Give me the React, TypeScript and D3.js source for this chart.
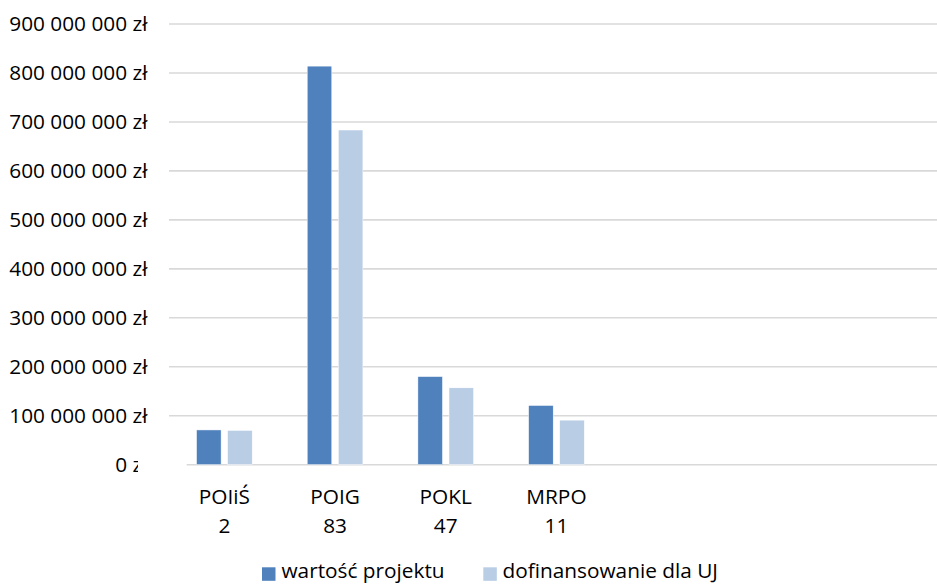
import React from "react";
import * as d3 from "d3";

const categories = ["POIiŚ", "POIG", "POKL", "MRPO", "", " ", "  "];
const counts = ["2", "83", "47", "11", "", "", ""];
const seriesNames = ["wartość projektu", "dofinansowanie dla UJ"];
const wartosc = [71000000, 814000000, 180000000, 121000000, null, null, null];
const dofinansowanie = [70000000, 683500000, 157000000, 91000000, null, null, null];
const yTicks = [0, 100000000, 200000000, 300000000, 400000000, 500000000, 600000000, 700000000, 800000000, 900000000];

const W = 937;
const H = 584;
const colors = ["#4F81BD", "#B9CDE5"];
const FONT = "'Open Sans', sans-serif";
const FS = 20.8;

function fmt(v: number): string {
  const s = String(Math.round(v)).replace(/\B(?=(\d{3})+(?!\d))/g, " ");
  return s + " zł";
}

export default function App() {
  const x0 = 169;
  const step = 110.7;
  const x = d3.scaleBand<string>().domain(categories).range([x0, x0 + step * categories.length]).padding(0);
  const y = d3.scaleLinear().domain([0, 900000000]).range([464.7, 24]);
  const inner = d3
    .scaleBand<string>()
    .domain(seriesNames)
    .range([27.5, 27.5 + 55.7])
    .paddingInner(6.5 / 31.1)
    .paddingOuter(0);
  const series = [wartosc, dofinansowanie];

  return (
    <svg width={W} height={H} style={{ position: "absolute", left: 0, top: 0, background: "#fff" }} fontFamily={FONT}>
      <defs>
        <clipPath id="zeroClip">
          <rect x={0} y={440} width={138} height={40} />
        </clipPath>
      </defs>
      {yTicks.map((t) =>
        t === 0 ? (
          <line key={t} x1={186.7} x2={W} y1={y(t)} y2={y(t)} stroke="#D9D9D9" strokeWidth={1.6} />
        ) : (
          <line key={t} x1={x0} x2={W} y1={y(t)} y2={y(t)} stroke="#D9D9D9" strokeWidth={1.6} />
        )
      )}
      {yTicks.map((t) => (
        <text
          key={"l" + t}
          x={147.5}
          y={y(t) + 7}
          textAnchor="end"
          fontSize={FS}
          fill="#000"
          clipPath={t === 0 ? "url(#zeroClip)" : undefined}
        >
          {fmt(t)}
        </text>
      ))}
      {series.map((vals, si) =>
        categories.map((c, ci) => {
          const v = vals[ci];
          if (v == null) return null;
          const bx = (x(c) as number) + (inner(seriesNames[si]) as number);
          return (
            <rect
              key={si + "-" + ci}
              x={bx}
              y={y(v)}
              width={inner.bandwidth()}
              height={y(0) - y(v)}
              fill={colors[si]}
              stroke="#fff"
              strokeWidth={0.5}
            />
          );
        })
      )}
      {categories.map((c, ci) =>
        counts[ci] ? (
          <g key={"c" + ci}>
            <text x={(x(c) as number) + step / 2} y={503.5} textAnchor="middle" fontSize={FS} fill="#000">
              {c}
            </text>
            <text x={(x(c) as number) + step / 2} y={533} textAnchor="middle" fontSize={FS} fill="#000">
              {counts[ci]}
            </text>
          </g>
        ) : null
      )}
      <g>
        <rect x={262} y={567.3} width={13.5} height={13.5} fill={colors[0]} />
        <text x={281.5} y={577.5} fontSize={FS} fill="#000">
          {seriesNames[0]}
        </text>
        <rect x={483.3} y={567.3} width={13.5} height={13.5} fill={colors[1]} />
        <text x={502.5} y={577.5} fontSize={FS} fill="#000">
          {seriesNames[1]}
        </text>
      </g>
    </svg>
  );
}
